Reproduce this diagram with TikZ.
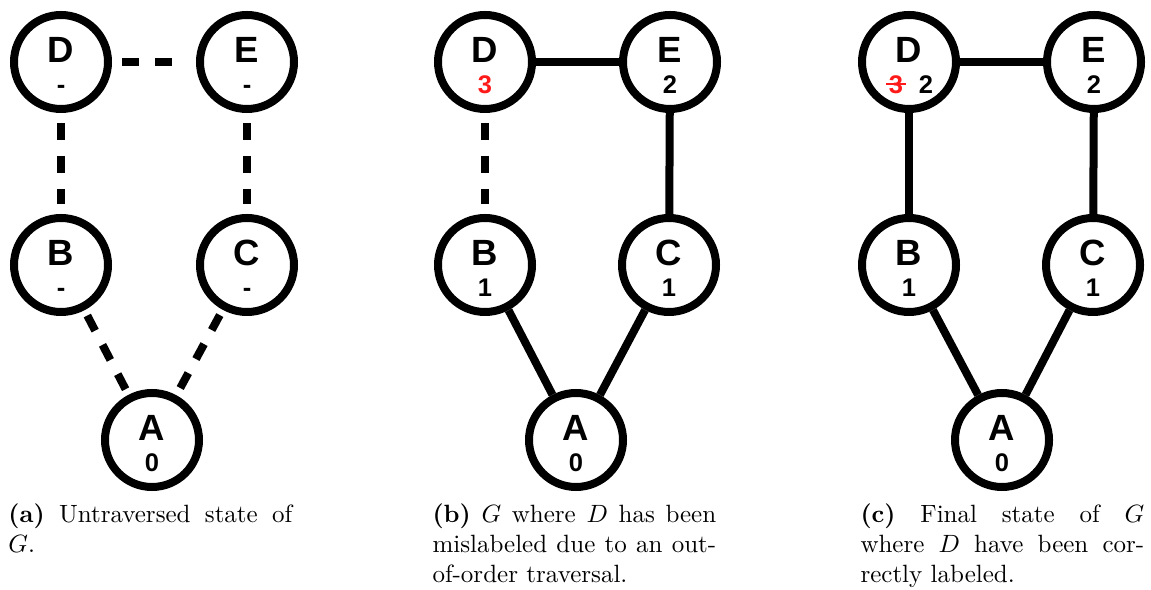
\documentclass[tikz,border=0pt]{standalone}
\usepackage{fontspec}
\newfontfamily\nodefont{Liberation Sans}
\usetikzlibrary{calc}
\definecolor{mislabel}{HTML}{FF1A1A}

\tikzset{
  x=0.4pt, y=-0.4pt,
  vtx/.style={circle, draw, line width=3.2pt, minimum size=37.6pt, inner sep=0pt},
  vname/.style={font=\nodefont\bfseries\fontsize{14.6}{15}\selectfont, anchor=base, inner sep=0pt},
  vnum/.style={font=\nodefont\bfseries\fontsize{10.2}{11}\selectfont, anchor=base, inner sep=0pt},
  done/.style={line width=3.2pt},
  pending/.style={line width=3.2pt, dash pattern=on 6.8pt off 6.4pt, shorten <=4pt, shorten >=4pt},
  pendingdiag/.style={pending, shorten <=2.4pt, shorten >=2.4pt},
  caption/.style={anchor=base west, text width=113.5pt, align=justify, inner sep=0pt, font=\normalfont}
}

% vertex: name, x, y, letter, visit number
\newcommand\vertexat[5]{%
  \node[vtx] (#1) at (#2,#3) {};
  \node[vname] (#1-name) at ($(#1.center)+(0,1)$) {#4};
  \node[vnum] (#1-num) at ($(#1.center)+(0,32)$) {#5};
}

\begin{document}
\begin{tikzpicture}
  \useasboundingbox (0,0) rectangle (1151,590);

  % (a) untraversed graph
  \vertexat{aD}{61}{62}{D}{-}
  \vertexat{aE}{247}{62}{E}{-}
  \vertexat{aB}{61}{265}{B}{-}
  \vertexat{aC}{247}{265}{C}{-}
  \vertexat{aA}{152}{440}{A}{0}
  \draw[pending] (aD) -- (aE);
  \draw[pending] (aD) -- (aB);
  \draw[pending] (aE) -- (aC);
  \draw[pendingdiag] (aB) -- (aA);
  \draw[pendingdiag] (aC) -- (aA);

  % (b) D reached out of order
  \node[vtx] (bD) at (485,62) {};
  \node[vname] (bD-name) at ($(bD.center)+(0,1)$) {D};
  \node[vnum, text=mislabel] (bD-num) at ($(bD.center)+(0,32)$) {3};
  \vertexat{bE}{670}{62}{E}{2}
  \vertexat{bB}{485}{265}{B}{1}
  \vertexat{bC}{669}{265}{C}{1}
  \vertexat{bA}{576}{440}{A}{0}
  \draw[done] (bD) -- (bE);
  \draw[pending] (bD) -- (bB);
  \draw[done] (bE) -- (bC);
  \draw[done] (bB) -- (bA);
  \draw[done] (bC) -- (bA);

  % (c) final labelling
  \node[vtx] (cD) at (909,62) {};
  \node[vname] (cD-name) at ($(cD.center)+(0,1)$) {D};
  \node[vnum, text=mislabel] (cD-old) at ($(cD.center)+(-13,32)$) {3};
  \node[vnum] (cD-num) at ($(cD.center)+(17,32)$) {2};
  \draw[mislabel, line width=1.1pt] ($(cD-old.base west)+(-2,-10)$) -- ($(cD-old.base east)+(2,-10)$);
  \vertexat{cE}{1094}{62}{E}{2}
  \vertexat{cB}{909}{265}{B}{1}
  \vertexat{cC}{1093}{265}{C}{1}
  \vertexat{cA}{1002}{440}{A}{0}
  \draw[done] (cD) -- (cE);
  \draw[done] (cD) -- (cB);
  \draw[done] (cE) -- (cC);
  \draw[done] (cB) -- (cA);
  \draw[done] (cC) -- (cA);

  % captions
  \node[caption] (capA) at (8,523) {\textbf{(a)} Untraversed state of\linebreak $G$.};
  \node[caption] (capB) at (432,523) {\textbf{(b)} $G$ where $D$ has been\linebreak mislabeled due to an out-\linebreak of-order traversal.};
  \node[caption] (capC) at (860,523) {\textbf{(c)} Final state of $G$\linebreak where $D$ have been cor-\linebreak rectly labeled.};
\end{tikzpicture}
\end{document}
